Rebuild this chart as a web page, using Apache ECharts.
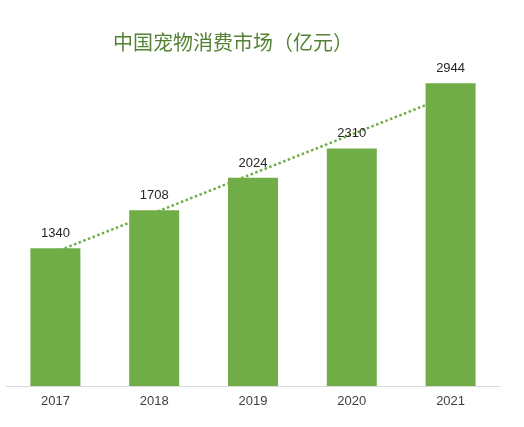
<!DOCTYPE html>
<html>
<head>
    <meta charset="utf-8">
    <title>中国宠物消费市场</title>
    <script src="https://cdn.jsdelivr.net/npm/echarts@6/dist/echarts.min.js"></script>
    <style>
        body {
            margin: 0;
            padding: 0;
            background-color: #fff;
        }

        #chart {
            width: 524px;
            height: 427px;
        }
    </style>
</head>
<body>
    <div id="chart"></div>

    <script>
        // data
        var years = ['2017', '2018', '2019', '2020', '2021'];
        var market = [1340, 1708, 2024, 2310, 2944];
        // dotted linear trend line
        var trend = [1303, 1684, 2065, 2446, 2827];

        var chart = echarts.init(document.getElementById('chart'));

        var option = {
            animation: false,
            title: {
                text: '中国宠物消费市场（亿元）',
                left: 108,
                top: 27,
                textStyle: {
                    fontFamily: 'Noto Sans CJK SC',
                    fontSize: 20,
                    fontWeight: 'normal',
                    color: '#548235'
                }
            },
            grid: {
                left: 6,
                right: 24,
                top: 26,
                bottom: 41
            },
            xAxis: {
                type: 'category',
                data: years,
                axisLine: {
                    lineStyle: {
                        color: '#d9d9d9',
                        width: 1
                    }
                },
                axisTick: { show: false },
                axisLabel: {
                    margin: 9,
                    fontFamily: 'Liberation Sans',
                    fontSize: 13,
                    color: '#404040'
                }
            },
            yAxis: {
                type: 'value',
                min: 0,
                max: 3500,
                show: false
            },
            series: [{
                type: 'line',
                data: trend,
                z: 1,
                symbol: 'none',
                lineStyle: {
                    color: '#70ad47',
                    width: 2.5,
                    type: [2.5, 2.5]
                }
            }, {
                type: 'bar',
                data: market,
                z: 3,
                barWidth: 50,
                itemStyle: {
                    color: '#70ad47'
                },
                label: {
                    show: true,
                    position: 'top',
                    distance: 8,
                    fontFamily: 'Liberation Sans',
                    fontSize: 13,
                    color: '#262626'
                }
            }]
        };

        chart.setOption(option);
    </script>
</body>
</html>
